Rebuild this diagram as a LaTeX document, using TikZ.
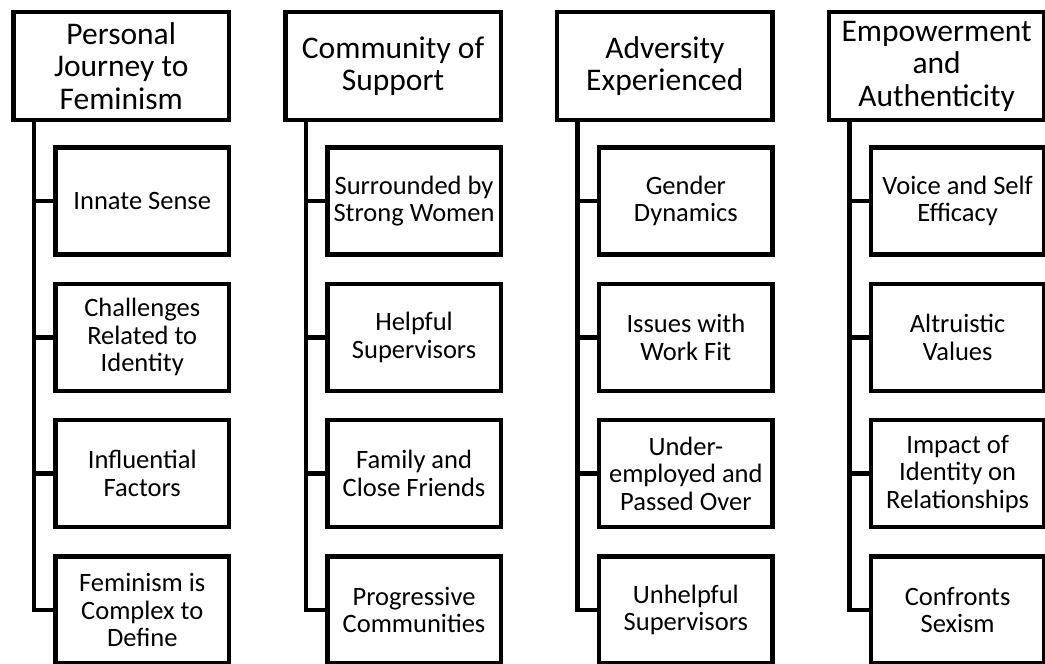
\documentclass[tikz,border=0pt]{standalone}
\usepackage{fontspec}
\setmainfont{Carlito}
\begin{document}
\begin{tikzpicture}[x=1pt,y=-1pt,
  box/.style={draw=black,line width=4.5pt,fill=white,inner sep=0pt,align=center},
  headbox/.style={box,minimum width=215.5pt,minimum height=108pt,font=\fontsize{31.5}{32.5}\selectfont},
  subbox/.style={box,minimum width=173.5pt,minimum height=107pt,font=\fontsize{26.5}{27.5}\selectfont},
  conn/.style={draw=black,line width=4.5pt}]
\useasboundingbox (0,0) rectangle (1045,664);
% column 1
\node[headbox] (h1) at (121.25,66) {Personal\\Journey to\\Feminism};
\node[subbox] (c11) at (142.25,201) {Innate Sense};
\node[subbox] (c12) at (142.25,337.3) {Challenges\\Related to\\Identity};
\node[subbox] (c13) at (142.25,473.6) {Influential\\Factors};
\node[subbox] (c14) at (142.25,610) {Feminism is\\Complex to\\Define};
\coordinate (t1) at (34,0);
% column 2
\node[headbox] (h2) at (393.05,66) {Community of\\Support};
\node[subbox] (c21) at (414.05,201) {Surrounded by\\Strong Women};
\node[subbox] (c22) at (414.05,337.3) {Helpful\\Supervisors};
\node[subbox] (c23) at (414.05,473.6) {Family and\\Close Friends};
\node[subbox] (c24) at (414.05,610) {Progressive\\Communities};
\coordinate (t2) at (305.8,0);
% column 3
\node[headbox] (h3) at (664.85,66) {Adversity\\Experienced};
\node[subbox] (c31) at (685.85,201) {Gender\\Dynamics};
\node[subbox] (c32) at (685.85,337.3) {Issues with\\Work Fit};
\node[subbox] (c33) at (685.85,473.6) {Under-\\employed and\\Passed Over};
\node[subbox] (c34) at (685.85,610) {Unhelpful\\Supervisors};
\coordinate (t3) at (577.6,0);
% column 4
\node[headbox] (h4) at (936.65,66) {Empowerment\\and\\Authenticity};
\node[subbox] (c41) at (957.65,201) {Voice and Self\\Efficacy};
\node[subbox] (c42) at (957.65,337.3) {Altruistic\\Values};
\node[subbox] (c43) at (957.65,473.6) {Impact of\\Identity on\\Relationships};
\node[subbox] (c44) at (957.65,610) {Confronts\\Sexism};
\coordinate (t4) at (849.4,0);
% connectors
\foreach \i in {1,2,3,4}{
  \draw[conn] (h\i.south -| t\i) |- (c\i4.west);
  \foreach \j in {1,2,3}{
    \draw[conn] (c\i\j.west -| t\i) -- (c\i\j.west);
  }
}
\end{tikzpicture}
\end{document}
